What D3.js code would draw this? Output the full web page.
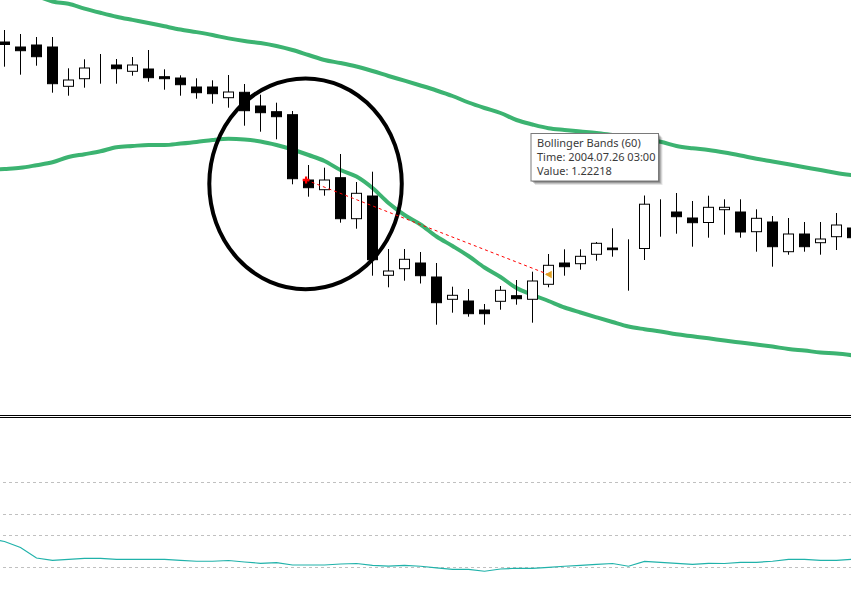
<!DOCTYPE html>
<html><head><meta charset="utf-8">
<script src="https://cdn.jsdelivr.net/npm/d3@7"></script>
<style>html,body{margin:0;padding:0;background:#fff;overflow:hidden}</style>
</head><body><svg id="c" width="851" height="613"></svg>
<script>
// OHLC per bar: [open, high, low, close]
const candles = [
[1.23080,1.23200,1.22833,1.23055],[1.23030,1.23160,1.22753,1.22993],[1.23050,1.23130,1.22843,1.22933],
[1.23030,1.23130,1.22573,1.22663],[1.22637,1.22817,1.22543,1.22700],[1.22713,1.22907,1.22623,1.22820],
[1.22807,1.22960,1.22663,1.22807],[1.22850,1.22910,1.22663,1.22813],[1.22787,1.22930,1.22743,1.22850],
[1.22810,1.23000,1.22683,1.22723],[1.22733,1.22807,1.22603,1.22713],[1.22720,1.22747,1.22543,1.22653],
[1.22630,1.22717,1.22513,1.22573],[1.22630,1.22697,1.22463,1.22563],[1.22523,1.22750,1.22423,1.22580],
[1.22577,1.22660,1.22243,1.22393],[1.22440,1.22553,1.22183,1.22373],[1.22383,1.22473,1.22107,1.22333],
[1.22353,1.22390,1.21657,1.21713],[1.21700,1.21850,1.21533,1.21623],[1.21603,1.21823,1.21543,1.21700],
[1.21723,1.21960,1.21273,1.21313],[1.21313,1.21680,1.21213,1.21567],[1.21540,1.21783,1.20743,1.20903],
[1.20747,1.21010,1.20627,1.20790],[1.20813,1.21010,1.20693,1.20907],[1.20870,1.20980,1.20665,1.20743],
[1.20730,1.20870,1.20253,1.20473],[1.20507,1.20633,1.20373,1.20547],[1.20490,1.20610,1.20333,1.20363],
[1.20400,1.20460,1.20253,1.20363],[1.20487,1.20640,1.20403,1.20597],[1.20543,1.20700,1.20453,1.20513],
[1.20507,1.20783,1.20273,1.20690],[1.20657,1.20960,1.20627,1.20847],[1.20870,1.21007,1.20743,1.20833],
[1.20863,1.21007,1.20803,1.20937],[1.20957,1.21080,1.20893,1.21067],[1.21020,1.21217,1.20933,1.21003],
[1.20987,1.21107,1.20593,1.20987],[1.21015,1.21545,1.20900,1.21458],[1.21407,1.21507,1.21133,1.21407],
[1.21380,1.21570,1.21163,1.21333],[1.21320,1.21490,1.21033,1.21273],[1.21275,1.21543,1.21123,1.21427],
[1.21403,1.21507,1.21153,1.21427],[1.21380,1.21507,1.21123,1.21180],[1.21183,1.21407,1.20983,1.21317],
[1.21280,1.21340,1.20833,1.21033],[1.20983,1.21320,1.20953,1.21160],[1.21160,1.21280,1.20983,1.21033],
[1.21073,1.21280,1.20953,1.21110],[1.21133,1.21370,1.21000,1.21250],[1.21220,1.21300,1.21040,1.21123]
];
// Bollinger Bands (60), bar -1 .. 53
const bandStartIndex = -1;
const upperBand = [1.23640,1.23600,1.23570,1.23540,1.23485,1.23462,1.23414,1.23372,1.23333,1.23301,1.23270,
1.23237,1.23205,1.23179,1.23150,1.23116,1.23090,1.23070,1.23040,1.23000,1.22950,1.22900,1.22870,1.22835,
1.22790,1.22740,1.22693,1.22645,1.22595,1.22540,1.22475,1.22420,1.22370,1.22300,1.22255,1.22218,1.22200,
1.22185,1.22170,1.22150,1.22130,1.22105,1.22082,1.22040,1.22017,1.22000,1.21975,1.21945,1.21912,1.21885,
1.21857,1.21828,1.21800,1.21770,1.21747];
const lowerBand = [1.21800,1.21810,1.21822,1.21848,1.21877,1.21930,1.21958,1.21987,1.22028,1.22040,1.22050,
1.22050,1.22064,1.22080,1.22100,1.22112,1.22105,1.22085,1.22050,1.22005,1.21950,1.21890,1.21800,1.21735,
1.21620,1.21470,1.21350,1.21255,1.21135,1.21040,1.20940,1.20825,1.20730,1.20620,1.20552,1.20490,1.20425,
1.20375,1.20327,1.20280,1.20235,1.20208,1.20185,1.20157,1.20137,1.20117,1.20095,1.20075,1.20055,1.20034,
1.20010,1.19994,1.19976,1.19964,1.19947];
// lower indicator, bar -1 .. 53
const indicator = [47.3,44.0,38.4,28.5,26.3,27.1,28.2,28.2,27.2,27.2,27.2,27.2,26.3,25.4,25.4,26.1,24.7,
23.5,24.2,21.9,21.9,21.9,22.8,23.3,21.6,20.9,21.6,20.7,19.1,17.8,17.8,16.0,18.1,18.8,18.8,19.7,20.7,21.6,
22.4,23.3,20.7,25.2,24.4,23.5,22.5,23.5,23.3,24.4,24.4,25.4,27.2,27.2,26.3,26.3,27.2];
const indicatorLevels = [20, 50, 70, 100];
// annotations
const ellipseBox = {i0: 12.8, i1: 24.83, pTop: 1.22715, pBottom: 1.20608};
const trendLine = {i0: 18.85, p0: 1.21700, i1: 34.0, p1: 1.20755};
const tooltipLines = ["Bollinger Bands (60)", "Time: 2004.07.26 03:00", "Value: 1.22218"];

const svg = d3.select("#c");
const W = 851, H = 613;
const x = d3.scaleLinear().domain([0, 53]).range([4.5, 852.5]);
const yP = d3.scaleLinear().domain([1.1950, 1.2350]).range([400, 0]);
const yI = d3.scaleLinear().domain([20, 100]).range([567, 482]);

const defs = svg.append("defs");
defs.append("clipPath").attr("id","main").append("rect").attr("x",0).attr("y",0).attr("width",W).attr("height",414);
defs.append("clipPath").attr("id","sub").append("rect").attr("x",0).attr("y",419).attr("width",W).attr("height",H-419);

const main = svg.append("g").attr("clip-path","url(#main)");
const sub = svg.append("g").attr("clip-path","url(#sub)");

// bands
const bandLine = d3.line().x((d,i)=>x(i+bandStartIndex)).y(d=>yP(d)).curve(d3.curveMonotoneX);
[upperBand, lowerBand].forEach(b=>{
  main.append("path").attr("d", bandLine(b)).attr("fill","none").attr("stroke","#3cb371").attr("stroke-width",4);
});

// candles
const cg = main.append("g");
candles.forEach((c,i)=>{
  const [o,h,l,cl] = c;
  const cx = x(i);
  cg.append("line").attr("x1",cx).attr("x2",cx).attr("y1",yP(h)).attr("y2",yP(l)).attr("stroke","#000").attr("stroke-width",1);
  const top = yP(Math.max(o,cl)), bot = yP(Math.min(o,cl));
  cg.append("rect").attr("x",cx-5).attr("width",10).attr("y",top).attr("height",Math.max(0,bot-top))
    .attr("fill", cl < o ? "#000" : "#fff").attr("stroke","#000").attr("stroke-width",1);
});

// ellipse annotation
const ex0 = x(ellipseBox.i0), ex1 = x(ellipseBox.i1), ey0 = yP(ellipseBox.pTop), ey1 = yP(ellipseBox.pBottom);
main.append("ellipse").attr("cx",(ex0+ex1)/2).attr("cy",(ey0+ey1)/2).attr("rx",(ex1-ex0)/2).attr("ry",(ey1-ey0)/2)
  .attr("fill","none").attr("stroke","#000").attr("stroke-width",4);

// trend line
const tx0 = x(trendLine.i0), ty0 = yP(trendLine.p0), tx1 = x(trendLine.i1), ty1 = yP(trendLine.p1);
main.append("line").attr("x1",tx0).attr("y1",ty0).attr("x2",tx1).attr("y2",ty1)
  .attr("stroke","#ff0000").attr("stroke-width",1).attr("stroke-dasharray","3,3");
main.append("path").attr("d", d3.symbol(d3.symbolCross, 26)()).attr("transform",`translate(${tx0},${ty0}) rotate(0)`).attr("fill","#ff0000");
main.append("path").attr("d", d3.symbol(d3.symbolTriangle, 26)()).attr("transform",`translate(${tx1+1},${ty1}) rotate(-90)`).attr("fill","#e0a020");

// tooltip
const tipX = x(33) - 1.5, tipY = yP(upperBand[33 - bandStartIndex]) + 9;
const tip = main.append("g").attr("transform",`translate(${tipX},${tipY})`);
const tw = 127.5, th = 47.5;
[[4,0.10],[3,0.15],[2,0.2],[1,0.25]].forEach(([o,a])=>{
  tip.append("rect").attr("x",o).attr("y",o).attr("width",tw).attr("height",th).attr("fill","#000").attr("fill-opacity",a);
});
tip.append("rect").attr("x",0).attr("y",0).attr("width",tw).attr("height",th).attr("fill","#fff").attr("stroke","#7a7a7a").attr("stroke-width",1);
tooltipLines.forEach((t,k)=>{
  tip.append("text").attr("x",6).attr("y",13 + k*14.2).text(t)
    .attr("font-family","'Noto Sans', 'Liberation Sans', sans-serif").attr("font-size","11px").attr("fill","#3a3a3a");
});

// separator
[415.5, 417.5].forEach(yy=>{
  svg.append("line").attr("x1",0).attr("x2",W).attr("y1",yy).attr("y2",yy).attr("stroke","#000").attr("stroke-width",1);
});

// lower pane levels
indicatorLevels.forEach(v=>{
  sub.append("line").attr("x1",3).attr("x2",W).attr("y1",Math.round(yI(v))+0.5).attr("y2",Math.round(yI(v))+0.5)
    .attr("stroke","#c0c0c0").attr("stroke-width",1).attr("stroke-dasharray","3,3");
});
const indLine = d3.line().x((d,i)=>x(i+bandStartIndex)).y(d=>yI(d));
sub.append("path").attr("d", indLine(indicator)).attr("fill","none").attr("stroke","#20b2aa").attr("stroke-width",1.2);
</script>
</body></html>
